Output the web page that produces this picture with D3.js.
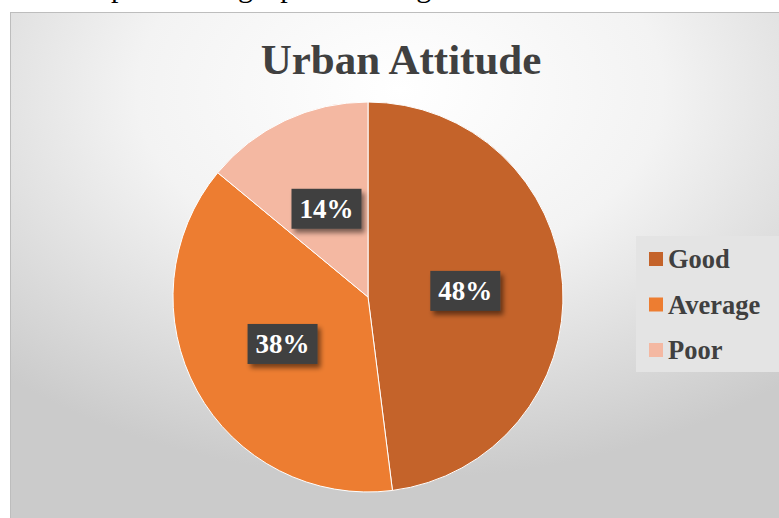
<!DOCTYPE html>
<html>
<head>
<meta charset="utf-8">
<script src="https://cdn.jsdelivr.net/npm/d3@7"></script>
<style>
  body { margin: 0; background: #fff; }
  svg { display: block; }
</style>
</head>
<body>
<div id="chart"></div>
<script>
// data
var categories = ["Good", "Average", "Poor"];
var values = [48, 38, 14];
var colors = ["#C4632A", "#ED7D31", "#F4B8A2"];

var W = 779, H = 518;
var serif = "'Liberation Serif', 'Times New Roman', serif";

var svg = d3.select("#chart")
  .append("svg")
  .attr("width", W).attr("height", H);

var defs = svg.append("defs");

// background gradient of chart area
var bg = defs.append("radialGradient")
  .attr("id", "bg")
  .attr("cx", "50%").attr("cy", "15%")
  .attr("r", "75%");
bg.append("stop").attr("offset", "0%").attr("stop-color", "#ffffff");
bg.append("stop").attr("offset", "45%").attr("stop-color", "#f3f3f3");
bg.append("stop").attr("offset", "100%").attr("stop-color", "#cbcbcb");

// shadow for label boxes
var sh = defs.append("filter").attr("id", "shadow")
  .attr("x", "-20%").attr("y", "-20%").attr("width", "150%").attr("height", "160%");
sh.append("feGaussianBlur").attr("in", "SourceAlpha").attr("stdDeviation", 2.5);
sh.append("feOffset").attr("dx", 3).attr("dy", 4).attr("result", "b");
sh.append("feComponentTransfer").append("feFuncA").attr("type", "linear").attr("slope", 0.5);
var mg = sh.append("feMerge");
mg.append("feMergeNode");
mg.append("feMergeNode").attr("in", "SourceGraphic");

// caption above chart (cut off at top in the reference)
svg.append("text")
  .attr("x", 62).attr("y", -3)
  .attr("textLength", 690)
  .attr("font-family", serif)
  .attr("font-size", 30)
  .attr("fill", "#000")
  .text("Graph 4: Pie graph showing rural and urban attitude");

// chart area
svg.append("rect")
  .attr("x", 10.5).attr("y", 12.5)
  .attr("width", W).attr("height", H)
  .attr("fill", "url(#bg)")
  .attr("stroke", "#bdbdbd");

// title
svg.append("text")
  .attr("x", 401).attr("y", 74)
  .attr("text-anchor", "middle")
  .attr("font-family", serif)
  .attr("font-weight", "bold")
  .attr("font-size", 43)
  .attr("fill", "#404040")
  .text("Urban Attitude");

// pie
var cx = 368, cy = 297, R = 195;
var pie = d3.pie().sort(null).value(function(d) { return d; });
var arc = d3.arc().innerRadius(0).outerRadius(R);
var arcs = pie(values);

var g = svg.append("g").attr("transform", "translate(" + cx + "," + cy + ")");

g.selectAll("path")
  .data(arcs)
  .enter()
  .append("path")
  .attr("d", arc)
  .attr("fill", function(d, i) { return colors[i]; })
  .attr("stroke", "#ffffff")
  .attr("stroke-width", 1);

// data labels
var lab = g.selectAll("g.lab")
  .data(arcs)
  .enter()
  .append("g")
  .attr("class", "lab")
  .attr("transform", function(d) {
    var c = arc.centroid(d);
    return "translate(" + c[0] + "," + c[1] + ")";
  });

lab.append("rect")
  .attr("x", -35).attr("y", -20)
  .attr("width", 70).attr("height", 40)
  .attr("fill", "#404040")
  .attr("filter", "url(#shadow)");

lab.append("text")
  .attr("text-anchor", "middle")
  .attr("y", 9)
  .attr("font-family", serif)
  .attr("font-weight", "bold")
  .attr("font-size", 27)
  .attr("fill", "#ffffff")
  .text(function(d) { return d.value + "%"; });

// legend
var legend = svg.append("g");
legend.append("rect")
  .attr("x", 636).attr("y", 236)
  .attr("width", 143).attr("height", 136)
  .attr("fill", "#e4e4e4");

var y = d3.scalePoint().domain(categories).range([259, 350]);

var item = legend.selectAll("g.item")
  .data(categories)
  .enter()
  .append("g")
  .attr("class", "item")
  .attr("transform", function(d) { return "translate(0," + y(d) + ")"; });

item.append("rect")
  .attr("x", 649).attr("y", -7)
  .attr("width", 14).attr("height", 14)
  .attr("fill", function(d, i) { return colors[i]; });

item.append("text")
  .attr("x", 668).attr("y", 9)
  .attr("font-family", serif)
  .attr("font-weight", "bold")
  .attr("font-size", 26.5)
  .attr("fill", "#404040")
  .text(function(d) { return d; });
</script>
</body>
</html>
